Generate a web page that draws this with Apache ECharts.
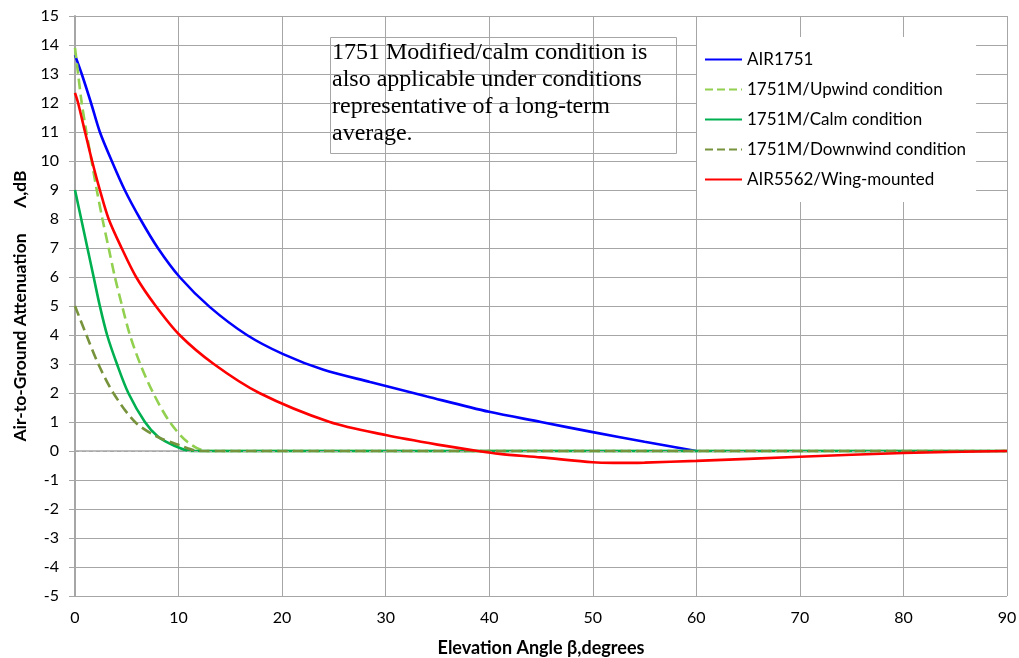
<!DOCTYPE html>
<html>
<head>
<meta charset="utf-8">
<script src="https://cdn.jsdelivr.net/npm/echarts@6/dist/echarts.min.js"></script>
<style>html,body{margin:0;padding:0;background:#fff}#c{width:1019px;height:658px}</style>
</head>
<body>
<div id="c"></div>
<script>
// Data (elevation angle in degrees, attenuation in dB)
const seriesNames = ['AIR1751', '1751M/Upwind condition', '1751M/Calm condition', '1751M/Downwind condition', 'AIR5562/Wing-mounted'];

const air1751X = [0, 0.65, 1.55, 2.4, 3.55, 4.8, 6.3, 8.0, 10.1, 13.0, 16.6, 20.1, 24, 28.5, 34, 40, 45, 50, 55, 60];
const air1751Y = [13.65, 13.0, 12.0, 11.0, 10.0, 9.0, 8.0, 7.0, 6.0, 4.97, 4.0, 3.34, 2.8, 2.38, 1.88, 1.35, 1.0, 0.65, 0.32, 0.0];

const upwindX = [0, 0.3, 0.65, 1.1, 1.6, 2.1, 2.65, 3.25, 3.85, 4.55, 5.3, 6.3, 7.55, 9.15, 10.9, 12.7, 90];
const upwindY = [13.9, 13.0, 12.0, 11.0, 10.0, 9.0, 8.0, 7.0, 6.0, 5.0, 4.0, 3.0, 2.0, 1.0, 0.3, 0.0, 0.0];

const calmX = [0, 0.6, 1.2, 1.8, 2.4, 3.1, 4.05, 5.15, 6.75, 8.0, 9.5, 11.2, 90];
const calmY = [9.0, 8.0, 7.0, 6.0, 5.0, 4.0, 3.0, 2.0, 1.0, 0.5, 0.2, 0.0, 0.0];

const downwindX = [0, 1.1, 2.25, 3.7, 5.8, 7.9, 10.1, 12.0, 90];
const downwindY = [5.0, 4.0, 3.0, 2.0, 1.0, 0.5, 0.2, 0.0, 0.0];

const air5562X = [0, 0.3, 0.97, 1.65, 2.4, 3.25, 4.5, 5.9, 7.8, 10.1, 13.4, 17.8, 24.6, 30, 35, 38.9, 41, 45, 50, 52, 55, 60, 70, 80, 90];
const air5562Y = [12.35, 12.0, 11.0, 10.0, 9.0, 8.0, 7.0, 6.0, 5.0, 4.0, 3.0, 2.0, 1.0, 0.55, 0.22, 0.0, -0.1, -0.22, -0.39, -0.41, -0.4, -0.34, -0.2, -0.07, 0.0];

const xTicks = { min: 0, max: 90, interval: 10 };
const yTicks = { min: -5, max: 15, interval: 1 };

const noteText = '1751 Modified/calm condition is\nalso applicable under conditions\nrepresentative of a long-term\naverage.';

const zip = (xs, ys) => xs.map((x, i) => [x, ys[i]]);

const colors = ['#0000ff', '#92d050', '#00b050', '#77933c', '#ff0000'];
const types = ['solid', 'dashed', 'solid', 'dashed', 'solid'];
const datas = [zip(air1751X, air1751Y), zip(upwindX, upwindY), zip(calmX, calmY), zip(downwindX, downwindY), zip(air5562X, air5562Y)];

const gridColors = [];
for (let v = yTicks.min; v <= yTicks.max; v += yTicks.interval) gridColors.push(v === 0 ? 'rgba(0,0,0,0)' : '#a6a6a6');

const font = 'Lato, "Open Sans", sans-serif';

const chart = echarts.init(document.getElementById('c'), null, { renderer: 'canvas' });
chart.setOption({
  animation: false,
  backgroundColor: '#fff',
  grid: { left: 75, right: 12, top: 16, bottom: 62, outerBoundsMode: 'none', containLabel: false },
  xAxis: {
    type: 'value', min: xTicks.min, max: xTicks.max, interval: xTicks.interval,
    name: 'Elevation Angle β,degrees', nameLocation: 'middle', nameGap: 43,
    nameTextStyle: { fontFamily: font, fontWeight: 'bold', fontSize: 18, color: '#000' },
    axisLine: { show: true, lineStyle: { color: '#a6a6a6', width: 1.5 } },
    axisTick: { show: false },
    axisLabel: { fontFamily: font, fontSize: 16, color: '#000', margin: 14 },
    splitLine: { show: true, lineStyle: { color: '#a6a6a6', width: 1 } }
  },
  yAxis: {
    type: 'value', min: yTicks.min, max: yTicks.max, interval: yTicks.interval,
    name: 'Air-to-Ground Attenuation      Λ,dB', nameLocation: 'middle', nameGap: 46, nameRotate: 90,
    nameTextStyle: { fontFamily: font, fontWeight: 'bold', fontSize: 17.5, color: '#000' },
    axisLine: { show: true, onZero: false, lineStyle: { color: '#a6a6a6', width: 2 } },
    axisTick: { show: true, length: 6, inside: false, lineStyle: { color: '#a6a6a6' } },
    axisLabel: { fontFamily: font, fontSize: 16, color: '#000', margin: 16 },
    splitLine: { show: true, lineStyle: { color: gridColors, width: 1 } }
  },
  legend: {
    orient: 'vertical', left: 697, top: 37,
    backgroundColor: '#fff', padding: [14, 10, 14, 7], itemGap: 13,
    itemWidth: 37, itemHeight: 17,
    itemStyle: { opacity: 0 },
    textStyle: { fontFamily: font, fontSize: 17, color: '#000' },
    data: seriesNames
  },
  graphic: [
    {
      type: 'rect', left: 330, top: 37, z: 50,
      shape: { width: 346, height: 116 },
      style: { fill: 'rgba(0,0,0,0)', stroke: '#a6a6a6', lineWidth: 1 }
    },
    {
      type: 'text', left: 332, top: 39, z: 51,
      style: { text: noteText, font: '24px "Liberation Serif", "Times New Roman", serif', fill: '#000', lineHeight: 27 }
    }
  ],
  series: datas.map((d, i) => ({
    name: seriesNames[i], type: 'line', data: d, showSymbol: false, symbol: 'none',
    smooth: 0.3, clip: true,
    lineStyle: { color: colors[i], width: 2.6, type: types[i] },
    itemStyle: { color: colors[i] },
    markLine: i === 0 ? {
      silent: true, symbol: 'none', label: { show: false },
      lineStyle: { color: '#a6a6a6', type: [4, 3], width: 1 },
      data: [{ yAxis: 0 }]
    } : undefined,
    z: 2 + i
  }))
});
</script>
</body>
</html>
